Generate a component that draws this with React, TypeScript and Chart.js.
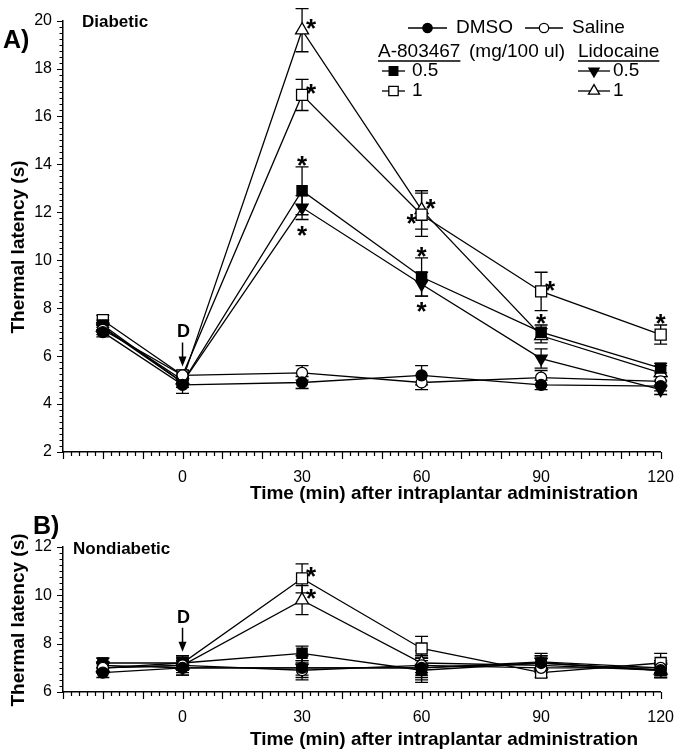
import React, { useEffect, useRef } from 'react';
import { Chart, registerables } from 'chart.js';
Chart.register(...registerables);

const FONT = '"Liberation Sans", Arial, Helvetica, sans-serif';

// Time points (min)
const timePoints = [-20, 0, 30, 60, 90, 120];
const xTickLabels = [0, 30, 60, 90, 120];
const seriesNames = ['DMSO', 'Saline', 'A-803467 0.5', 'A-803467 1', 'Lidocaine 0.5', 'Lidocaine 1'];

// Panel A: Diabetic
const diabDMSO = [7.0, 4.8, 4.9, 5.2, 4.8, 4.75];
const diabSaline = [7.1, 5.2, 5.3, 4.9, 5.1, 4.95];
const diabA05 = [7.3, 4.9, 12.9, 9.3, 7.0, 5.5];
const diabA1 = [7.5, 5.2, 16.9, 11.9, 8.7, 6.9];
const diabL05 = [7.2, 4.9, 12.2, 9.0, 5.9, 4.6];
const diabL1 = [7.2, 5.0, 19.6, 12.1, 6.85, 5.3];

const diabErrDMSO = [0.2, 0.35, 0.25, 0.4, 0.2, 0.2];
const diabErrSaline = [0.2, 0.2, 0.3, 0.3, 0.3, 0.2];
const diabErrA05 = [0.2, 0.2, 1.0, 0.8, 0.3, 0.2];
const diabErrA1 = [0.2, 0.2, 0.65, 0.9, 0.8, 0.4];
const diabErrL05 = [0.2, 0.2, 0.5, 0.5, 0.4, 0.2];
const diabErrL1 = [0.2, 0.2, 0.9, 0.8, 0.3, 0.3];

// Panel B: Nondiabetic
const nondDMSO = [6.8, 7.0, 7.0, 7.0, 7.2, 6.9];
const nondSaline = [7.0, 7.1, 6.9, 7.1, 7.0, 7.0];
const nondA05 = [7.2, 7.2, 7.6, 6.9, 7.2, 6.9];
const nondA1 = [7.0, 7.2, 10.7, 7.8, 6.8, 7.2];
const nondL05 = [7.1, 7.0, 7.0, 7.0, 7.25, 7.0];
const nondL1 = [7.0, 7.1, 9.8, 7.2, 7.1, 6.9];

const nondErrDMSO = [0.2, 0.3, 0.3, 0.4, 0.3, 0.3];
const nondErrSaline = [0.2, 0.2, 0.3, 0.3, 0.2, 0.3];
const nondErrA05 = [0.2, 0.3, 0.3, 0.5, 0.3, 0.3];
const nondErrA1 = [0.2, 0.3, 0.6, 0.5, 0.2, 0.4];
const nondErrL05 = [0.3, 0.3, 0.5, 0.5, 0.35, 0.3];
const nondErrL1 = [0.2, 0.3, 0.6, 0.5, 0.3, 0.3];

// significance markers: [series index, time index, placement]
const diabStars: [number, number, string][] = [
  [5, 2, 'right'], [3, 2, 'right'], [2, 2, 'above'], [4, 2, 'below'],
  [5, 3, 'right'], [3, 3, 'left'], [2, 3, 'above'], [4, 3, 'below'],
  [3, 4, 'right'], [2, 4, 'above'], [3, 5, 'above'],
];
const nondStars: [number, number, string][] = [[3, 2, 'right'], [5, 2, 'right']];

// y axis tick ranges
const diabYRange = [2, 20];
const nondYRange = [6, 12];

// marker styles per series
const markerStyles = [
  { kind: 'circle', filled: true, r: 5.5 },
  { kind: 'circle', filled: false, r: 5.5 },
  { kind: 'rect', filled: true, r: 7.2 },
  { kind: 'rect', filled: false, r: 7.8 },
  { kind: 'triDown', filled: true, r: 7 },
  { kind: 'triUp', filled: false, r: 7.5 },
];

function drawMarker(ctx: CanvasRenderingContext2D, kind: string, filled: boolean, x: number, y: number, r: number) {
  ctx.beginPath();
  if (kind === 'circle') {
    ctx.arc(x, y, r, 0, Math.PI * 2);
  } else if (kind === 'rect') {
    const s = r * Math.SQRT1_2;
    ctx.rect(x - s, y - s, 2 * s, 2 * s);
  } else if (kind === 'triUp') {
    const w = r * Math.sin(Math.PI / 3);
    ctx.moveTo(x, y - r);
    ctx.lineTo(x + w, y + r / 2);
    ctx.lineTo(x - w, y + r / 2);
    ctx.closePath();
  } else {
    const w = r * Math.sin(Math.PI / 3);
    ctx.moveTo(x, y + r);
    ctx.lineTo(x + w, y - r / 2);
    ctx.lineTo(x - w, y - r / 2);
    ctx.closePath();
  }
  ctx.fillStyle = filled ? '#000' : '#fff';
  ctx.fill();
  ctx.stroke();
}

type Panel = {
  values: number[][];
  errors: number[][];
  yRange: number[];
  stars: [number, number, string][];
  letter: string;
  letterPos: [number, number];
  name: string;
  namePos: [number, number];
  padTop: number;
  xAxisH: number;
  yTitleY: number;
  xTitleY: number;
  legend: boolean;
};

const panelA: Panel = {
  values: [diabDMSO, diabSaline, diabA05, diabA1, diabL05, diabL1],
  errors: [diabErrDMSO, diabErrSaline, diabErrA05, diabErrA1, diabErrL05, diabErrL1],
  yRange: diabYRange,
  stars: diabStars,
  letter: 'A)',
  letterPos: [3, 41],
  name: 'Diabetic',
  namePos: [82, 22],
  padTop: 18,
  xAxisH: 53,
  yTitleY: 247,
  xTitleY: 494,
  legend: true,
};

const panelB: Panel = {
  values: [nondDMSO, nondSaline, nondA05, nondA1, nondL05, nondL1],
  errors: [nondErrDMSO, nondErrSaline, nondErrA05, nondErrA1, nondErrL05, nondErrL1],
  yRange: nondYRange,
  stars: nondStars,
  letter: 'B)',
  letterPos: [33, 22],
  name: 'Nondiabetic',
  namePos: [73, 44],
  padTop: 42,
  xAxisH: 64,
  yTitleY: 115,
  xTitleY: 235,
  legend: false,
};

function drawLegend(ctx: CanvasRenderingContext2D) {
  ctx.save();
  ctx.strokeStyle = '#000';
  ctx.lineWidth = 1.3;
  const sample = (x1: number, x2: number, y: number, s: number) => {
    ctx.beginPath();
    ctx.moveTo(x1, y);
    ctx.lineTo(x2, y);
    ctx.stroke();
    const st = markerStyles[s];
    drawMarker(ctx, st.kind, st.filled, (x1 + x2) / 2, y, st.r * 0.85);
  };
  ctx.font = `19px ${FONT}`;
  ctx.textBaseline = 'middle';
  ctx.textAlign = 'left';
  const text = (t: string, x: number, y: number, underline = false) => {
    ctx.fillStyle = '#000';
    ctx.fillText(t, x, y);
    if (underline) {
      const w = ctx.measureText(t).width;
      ctx.beginPath();
      ctx.lineWidth = 1.5;
      ctx.moveTo(x, y + 9);
      ctx.lineTo(x + w, y + 9);
      ctx.stroke();
      ctx.lineWidth = 1.3;
    }
  };
  sample(408, 447, 28, 0);
  text(seriesNames[0], 456, 28);
  sample(525, 563, 28, 1);
  text(seriesNames[1], 572, 28);
  text('A-803467', 378, 52, true);
  text('(mg/100 ul)', 469, 52);
  text('Lidocaine', 578, 52, true);
  sample(382, 405, 71, 2);
  text('0.5', 412, 71);
  sample(382, 405, 91, 3);
  text('1', 412, 91);
  sample(578, 610, 71, 4);
  text('0.5', 613, 71);
  sample(578, 610, 91, 5);
  text('1', 613, 91);
  ctx.restore();
}

function makeConfig(panel: Panel): any {
  const datasets = panel.values.map((vals, s) => {
    const st = markerStyles[s];
    return {
      label: seriesNames[s],
      data: vals.map((v, i) => ({ x: timePoints[i], y: v })),
      borderColor: '#000',
      borderWidth: 1.3,
      tension: 0,
      fill: false,
      clip: false,
      pointStyle: st.kind === 'circle' ? 'circle' : st.kind === 'rect' ? 'rect' : 'triangle',
      pointRotation: st.kind === 'triDown' ? 180 : 0,
      pointRadius: st.r,
      pointBackgroundColor: st.filled ? '#000' : '#fff',
      pointBorderColor: '#000',
      pointBorderWidth: 1.3,
    };
  });

  const plugin = {
    id: 'decor',
    beforeDatasetsDraw(chart: any) {
      const ctx = chart.ctx;
      const xs = chart.scales.x;
      const ys = chart.scales.y;
      ctx.save();
      ctx.strokeStyle = '#000';
      ctx.lineWidth = 1.3;
      panel.values.forEach((vals, s) => {
        vals.forEach((v, i) => {
          const e = panel.errors[s][i];
          const px = xs.getPixelForValue(timePoints[i]);
          const top = ys.getPixelForValue(v + e);
          const bot = ys.getPixelForValue(v - e);
          ctx.beginPath();
          ctx.moveTo(px, top);
          ctx.lineTo(px, bot);
          ctx.moveTo(px - 6.5, top);
          ctx.lineTo(px + 6.5, top);
          ctx.moveTo(px - 6.5, bot);
          ctx.lineTo(px + 6.5, bot);
          ctx.stroke();
        });
      });
      ctx.restore();
    },
    afterDatasetsDraw(chart: any) {
      const ctx = chart.ctx;
      const xs = chart.scales.x;
      const ys = chart.scales.y;
      ctx.save();
      ctx.fillStyle = '#000';
      ctx.font = `bold 26px ${FONT}`;
      ctx.textAlign = 'center';
      ctx.textBaseline = 'alphabetic';
      for (const [s, i, pos] of panel.stars) {
        const v = panel.values[s][i];
        const e = panel.errors[s][i];
        const px = xs.getPixelForValue(timePoints[i]);
        let cx = px;
        let cy = ys.getPixelForValue(v);
        if (pos === 'above') cy = ys.getPixelForValue(v + e) - 8;
        else if (pos === 'below') cy = ys.getPixelForValue(v - e) + 9;
        else if (pos === 'right') { cx = px + 9; cy = cy - 8; }
        else if (pos === 'left') { cx = px - 10; cy = cy + 2; }
        ctx.fillText('*', cx, cy + 0.58 * 26);
      }
      // "D" drug administration arrow at time 0
      const i0 = timePoints.indexOf(0);
      const x0 = xs.getPixelForValue(0);
      let topVal = -Infinity;
      panel.values.forEach((vals, s) => {
        topVal = Math.max(topVal, vals[i0] + panel.errors[s][i0]);
      });
      const tip = ys.getPixelForValue(topVal) - 4;
      ctx.strokeStyle = '#000';
      ctx.lineWidth = 1.5;
      ctx.beginPath();
      ctx.moveTo(x0, tip - 24);
      ctx.lineTo(x0, tip - 6);
      ctx.stroke();
      ctx.beginPath();
      ctx.moveTo(x0, tip);
      ctx.lineTo(x0 - 4, tip - 10);
      ctx.lineTo(x0 + 4, tip - 10);
      ctx.closePath();
      ctx.fill();
      ctx.font = `bold 18px ${FONT}`;
      ctx.textBaseline = 'middle';
      ctx.fillText('D', x0 + 1, tip - 34);
      ctx.restore();
    },
    afterDraw(chart: any) {
      const ctx = chart.ctx;
      const xs = chart.scales.x;
      const ys = chart.scales.y;
      const area = chart.chartArea;
      ctx.save();
      ctx.strokeStyle = '#000';
      ctx.lineWidth = 1.2;
      ctx.beginPath();
      for (let v = xs.min; v <= xs.max + 1e-9; v += 2) {
        const px = Math.round(xs.getPixelForValue(v)) + 0.5;
        const len = Math.abs(v % 10) < 1e-9 ? 7 : 4;
        ctx.moveTo(px, area.bottom);
        ctx.lineTo(px, area.bottom + len);
      }
      for (let v = ys.min; v <= ys.max + 1e-9; v += 0.25) {
        const py = Math.round(ys.getPixelForValue(v)) + 0.5;
        const major = Math.abs(v / 2 - Math.round(v / 2)) < 1e-6;
        const len = major ? 6 : 3.5;
        ctx.moveTo(area.left - len, py);
        ctx.lineTo(area.left, py);
      }
      ctx.stroke();

      ctx.fillStyle = '#000';
      ctx.textAlign = 'left';
      ctx.textBaseline = 'middle';
      ctx.font = `bold 25px ${FONT}`;
      ctx.fillText(panel.letter, panel.letterPos[0], panel.letterPos[1]);
      ctx.font = `bold 17px ${FONT}`;
      ctx.fillText(panel.name, panel.namePos[0], panel.namePos[1]);

      ctx.font = `bold 19px ${FONT}`;
      ctx.textAlign = 'center';
      ctx.fillText('Time (min) after intraplantar administration', 444, panel.xTitleY);
      ctx.save();
      ctx.translate(19, panel.yTitleY);
      ctx.rotate(-Math.PI / 2);
      ctx.fillText('Thermal latency (s)', 0, 0);
      ctx.restore();

      if (panel.legend) drawLegend(ctx);
      ctx.restore();
    },
  };

  return {
    type: 'line',
    data: { datasets },
    plugins: [plugin],
    options: {
      animation: false,
      responsive: false,
      maintainAspectRatio: false,
      events: [],
      layout: { padding: { left: 0, right: 19, top: panel.padTop, bottom: 0 } },
      plugins: { legend: { display: false }, tooltip: { enabled: false }, title: { display: false } },
      scales: {
        x: {
          type: 'linear',
          min: -30,
          max: 120,
          afterFit: (s: any) => { s.height = panel.xAxisH; },
          grid: { display: false, drawTicks: false },
          border: { display: true, color: '#000', width: 1.5 },
          ticks: {
            stepSize: 30,
            autoSkip: false,
            maxRotation: 0,
            padding: 16,
            color: '#000',
            font: { family: FONT, size: 16 },
            callback: (v: number) => (xTickLabels.includes(v) ? String(v) : ''),
          },
        },
        y: {
          type: 'linear',
          min: panel.yRange[0],
          max: panel.yRange[1],
          afterFit: (s: any) => { s.width = 63; },
          grid: { display: false, drawTicks: false },
          border: { display: true, color: '#000', width: 1.5 },
          ticks: {
            stepSize: 2,
            padding: 11,
            color: '#000',
            font: { family: FONT, size: 16 },
          },
        },
      },
    },
  };
}

export default function App() {
  const refA = useRef<HTMLCanvasElement>(null);
  const refB = useRef<HTMLCanvasElement>(null);
  useEffect(() => {
    const a = new Chart(refA.current as HTMLCanvasElement, makeConfig(panelA));
    const b = new Chart(refB.current as HTMLCanvasElement, makeConfig(panelB));
    return () => {
      a.destroy();
      b.destroy();
    };
  }, []);
  return (
    <div style={{ position: 'absolute', left: 0, top: 0, width: 690, height: 756, background: '#fff' }}>
      <canvas ref={refA} width={690} height={505} style={{ position: 'absolute', left: 0, top: 0, width: 690, height: 505 }} />
      <canvas ref={refB} width={690} height={251} style={{ position: 'absolute', left: 0, top: 505, width: 690, height: 251 }} />
    </div>
  );
}
